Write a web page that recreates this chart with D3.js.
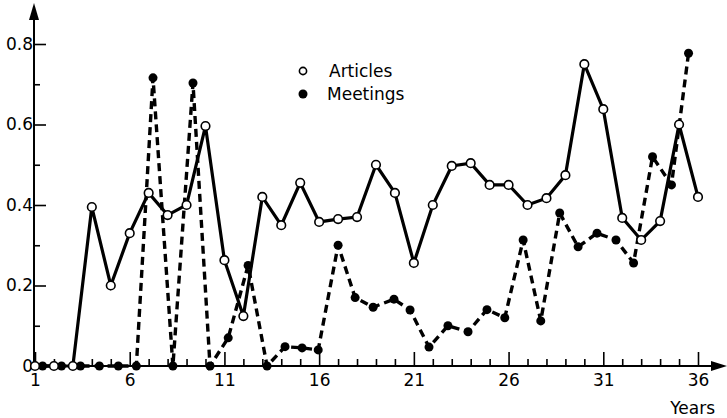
<!DOCTYPE html>
<html>
<head>
<meta charset="utf-8">
<title>Articles and Meetings</title>
<style type="text/css">
	body { margin: 0; background: white; }
	#chart { width: 727px; height: 418px; display: block; }
	.lbl { font-family: "DejaVu Sans", sans-serif; font-size: 17px; fill: black; }
	.axis text { font-family: "DejaVu Sans", sans-serif; font-size: 17px; fill: black; }
	.axis line { stroke: black; stroke-width: 1.6px; }
	.axis path { display: none; }
</style>
</head>
<body>
<svg id="chart"></svg>
<script src="https://cdn.jsdelivr.net/npm/d3@7/dist/d3.min.js"></script>
<script>

// years 1..36
var articleYears = d3.range(1, 37);
var articles = [0, 0, 0, 0.395, 0.2, 0.33, 0.43, 0.375, 0.40, 0.596, 0.263, 0.124,
	0.42, 0.35, 0.455, 0.358, 0.365, 0.37, 0.50, 0.43, 0.256, 0.40, 0.497, 0.504,
	0.45, 0.45, 0.40, 0.417, 0.474, 0.75, 0.638, 0.368, 0.313, 0.36, 0.60, 0.42];

// meetings were plotted a little off the year grid in the original
var meetingYears = [1.4, 2.4, 3.4, 4.4, 5.4, 6.35, 7.23, 8.28, 9.34, 10.24, 11.2, 12.25,
	13.25, 14.2, 15.1, 15.95, 17.0, 17.9, 18.85, 19.95, 20.8, 21.8, 22.8, 23.86,
	24.86, 25.8, 26.77, 27.7, 28.7, 29.67, 30.67, 31.67, 32.6, 33.6, 34.6, 35.5];
var meetings = [0, 0, 0, 0, 0, 0, 0.716, 0, 0.703, 0, 0.07, 0.25,
	0, 0.048, 0.045, 0.04, 0.30, 0.17, 0.146, 0.166, 0.139, 0.047, 0.10, 0.085,
	0.14, 0.12, 0.313, 0.112, 0.38, 0.296, 0.33, 0.313, 0.256, 0.52, 0.45, 0.777];

var xMajor = [1, 6, 11, 16, 21, 26, 31, 36];
var yMajor = [0, 0.2, 0.4, 0.6, 0.8];
var yMinor = [0.1, 0.3, 0.5, 0.7];
var legendNames = ['Articles', 'Meetings'];

var svg = d3.select('#chart');

var x = d3.scaleLinear().domain([1, 36]).range([35, 698]);
var y = d3.scaleLinear().domain([0, 0.8]).range([366, 44]);
var axisX = 34;

// y axis ticks (inward)
svg.append('g')
	.classed('axis', true)
	.attr('transform', 'translate(' + axisX + ',0)')
	.call(d3.axisLeft(y).tickValues(yMajor).tickSize(-12).tickPadding(1)
		.tickFormat(function(d) { return d === 0 ? '0' : d.toFixed(1); }));

svg.append('g')
	.classed('axis', true)
	.attr('transform', 'translate(' + axisX + ',0)')
	.call(d3.axisLeft(y).tickValues(yMinor).tickSize(-6).tickFormat(''));

// x axis ticks (upward)
svg.append('g')
	.classed('axis', true)
	.attr('transform', 'translate(0,' + y(0) + ')')
	.call(d3.axisBottom(x).tickValues(xMajor).tickSize(-14).tickPadding(8));

svg.append('g')
	.classed('axis', true)
	.attr('transform', 'translate(0,' + y(0) + ')')
	.call(d3.axisBottom(x).tickValues(articleYears.filter(function(d) { return xMajor.indexOf(d) == -1; }))
		.tickSize(-7).tickFormat(''));

// axis lines with arrow heads
svg.append('line').attr('x1', axisX).attr('x2', axisX).attr('y1', y(0) + 1).attr('y2', 14)
	.attr('stroke', 'black').attr('stroke-width', 2);
svg.append('path').attr('d', 'M' + axisX + ',3 L' + (axisX - 5) + ',20 L' + (axisX + 5) + ',20 Z')
	.attr('fill', 'black');
svg.append('line').attr('x1', axisX).attr('x2', 716).attr('y1', y(0)).attr('y2', y(0))
	.attr('stroke', 'black').attr('stroke-width', 2);
svg.append('path').attr('d', 'M727,' + y(0) + ' L711,' + (y(0) - 5) + ' L711,' + (y(0) + 5) + ' Z')
	.attr('fill', 'black');

svg.append('text').classed('lbl', true).attr('x', 715).attr('y', 414)
	.attr('text-anchor', 'end').text('Years');

// lines
var articlePts = articleYears.map(function(d, i) { return [d, articles[i]]; });
var meetingPts = meetingYears.map(function(d, i) { return [d, meetings[i]]; });

var line = d3.line().x(function(d) { return x(d[0]); }).y(function(d) { return y(d[1]); });

svg.append('path').datum(meetingPts).attr('d', line)
	.attr('fill', 'none').attr('stroke', 'black').attr('stroke-width', 3.4)
	.attr('stroke-dasharray', '8,5');

svg.append('path').datum(articlePts).attr('d', line)
	.attr('fill', 'none').attr('stroke', 'black').attr('stroke-width', 3.2);

svg.selectAll('.meet')
	.data(meetingPts)
	.enter()
	.append('circle')
	.classed('meet', true)
	.attr('cx', function(d) { return x(d[0]); })
	.attr('cy', function(d) { return y(d[1]); })
	.attr('r', 4.5)
	.attr('fill', 'black');

svg.selectAll('.art')
	.data(articlePts)
	.enter()
	.append('circle')
	.classed('art', true)
	.attr('cx', function(d) { return x(d[0]); })
	.attr('cy', function(d) { return y(d[1]); })
	.attr('r', 4.3)
	.attr('fill', 'white')
	.attr('stroke', 'black')
	.attr('stroke-width', 1.6);

// legend
var legend = svg.selectAll('.legend')
	.data(legendNames)
	.enter()
	.append('g')
	.classed('legend', true)
	.attr('transform', function(d, i) { return 'translate(303,' + (71 + i * 23) + ')'; });

legend.append('circle')
	.attr('r', function(d, i) { return i == 0 ? 3.6 : 4.5; })
	.attr('fill', function(d, i) { return i == 0 ? 'white' : 'black'; })
	.attr('stroke', 'black')
	.attr('stroke-width', function(d, i) { return i == 0 ? 1.6 : 0; });

legend.append('text')
	.classed('lbl', true)
	.attr('x', function(d, i) { return i == 0 ? 26 : 24; })
	.attr('y', 6)
	.text(function(d) { return d; });

</script>
</body>
</html>
